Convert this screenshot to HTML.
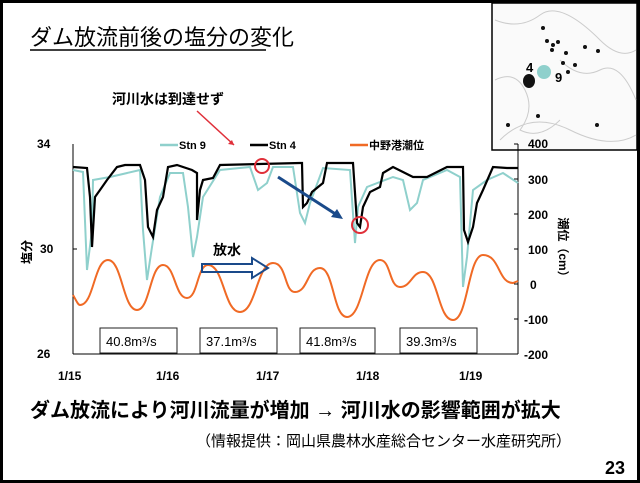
<!DOCTYPE html>
<html><head><meta charset="utf-8"><style>
html,body{margin:0;padding:0;background:#fff}
svg{display:block}
text{font-family:"Liberation Sans","Noto Sans CJK JP",sans-serif}
</style></head><body>
<svg width="640" height="483" viewBox="0 0 640 483" xmlns="http://www.w3.org/2000/svg">
<rect x="1.5" y="1.5" width="637" height="480" fill="#fff" stroke="#000" stroke-width="3"/>
<!-- map -->
<rect x="492" y="3" width="145" height="147" fill="#fafafa" stroke="#000" stroke-width="1.5"/>
<g fill="none" stroke="#ccc" stroke-width="1">
<path d="M495 20 Q520 30 540 15 T600 40 Q620 60 636 50"/>
<path d="M495 80 Q515 70 525 90 T520 130 Q540 140 560 120"/>
<path d="M560 60 Q580 80 600 70 T636 100"/>
<path d="M500 140 Q530 110 570 130 T636 135"/>
</g>
<g fill="#111">
<circle cx="543" cy="28" r="2"/><circle cx="547" cy="41" r="2"/><circle cx="553" cy="45" r="2"/><circle cx="558" cy="42" r="2"/><circle cx="552" cy="50" r="2"/><circle cx="566" cy="53" r="2"/><circle cx="563" cy="63" r="2"/><circle cx="575" cy="65" r="2"/><circle cx="568" cy="72" r="2"/><circle cx="585" cy="47" r="2"/><circle cx="598" cy="51" r="2"/><circle cx="538" cy="116" r="2"/><circle cx="508" cy="125" r="2"/><circle cx="597" cy="125" r="2"/>
<ellipse cx="529" cy="81" rx="6" ry="7"/>
</g>
<circle cx="544" cy="72" r="7" fill="#8fd0cc"/>
<text x="526" y="72" font-size="13" font-weight="bold">4</text>
<text x="555" y="82" font-size="13" font-weight="bold">9</text>
<!-- title -->
<text x="30" y="45" font-size="22">ダム放流前後の塩分の変化</text>
<line x1="30" y1="50" x2="266" y2="50" stroke="#000" stroke-width="1.5"/>
<text x="112" y="104" font-size="14" font-weight="bold">河川水は到達せず</text>
<line x1="197" y1="111" x2="234" y2="145" stroke="#e0303a" stroke-width="1.5"/>
<path d="M234 145 l-6 -1 l4 -4z" fill="#e0303a"/>
<!-- axes -->
<g font-size="12" font-weight="bold">
<text x="37" y="148">34</text><text x="40" y="253">30</text><text x="37" y="358">26</text>
<text x="528" y="148">400</text><text x="528" y="184">300</text><text x="528" y="219">200</text><text x="528" y="254">100</text><text x="530" y="289">0</text><text x="524" y="324">-100</text><text x="524" y="359">-200</text>
<text x="58" y="380">1/15</text><text x="156" y="380">1/16</text><text x="256" y="380">1/17</text><text x="356" y="380">1/18</text><text x="459" y="380">1/19</text>
</g>
<text x="27" y="256" font-size="12" font-weight="bold" text-anchor="middle" transform="rotate(-90 27 252)">塩分</text>
<text x="563" y="254" font-size="12" font-weight="bold" text-anchor="middle" transform="rotate(90 563 250)">潮位（cm）</text>
<line x1="73" y1="144" x2="73" y2="354" stroke="#000"/>
<line x1="73" y1="354" x2="518" y2="354" stroke="#000"/>
<line x1="518" y1="144" x2="518" y2="354" stroke="#000"/>
<line x1="73" y1="249" x2="77" y2="249" stroke="#000"/>
<g stroke="#000"><line x1="514" y1="144" x2="518" y2="144"/><line x1="514" y1="179" x2="518" y2="179"/><line x1="514" y1="214" x2="518" y2="214"/><line x1="514" y1="249" x2="518" y2="249"/><line x1="514" y1="284" x2="518" y2="284"/><line x1="514" y1="319" x2="518" y2="319"/></g>
<!-- legend -->
<line x1="160" y1="145" x2="178" y2="145" stroke="#8fd0cc" stroke-width="2.5"/>
<text x="179" y="149" font-size="11" font-weight="bold">Stn 9</text>
<line x1="250" y1="145" x2="268" y2="145" stroke="#000" stroke-width="2.5"/>
<text x="269" y="149" font-size="11" font-weight="bold">Stn 4</text>
<line x1="350" y1="145" x2="368" y2="145" stroke="#f06a25" stroke-width="2.5"/>
<text x="369" y="149" font-size="11" font-weight="bold">中野港潮位</text>
<!-- flow boxes -->
<g fill="#fff" stroke="#222"><rect x="100" y="328" width="77" height="25"/><rect x="200" y="328" width="77" height="25"/><rect x="300" y="328" width="75" height="25"/><rect x="400" y="328" width="77" height="25"/></g>
<g font-size="13"><text x="106" y="346">40.8m³/s</text><text x="206" y="346">37.1m³/s</text><text x="306" y="346">41.8m³/s</text><text x="406" y="346">39.3m³/s</text></g>
<!-- cyan -->
<polyline fill="none" stroke="#8fd0cc" stroke-width="2" points="73,170 83,172 87,270 92,230 93,180 110,177 140,170 143,230 147,280 152,247 160,197 170,173 183,173 188,207 193,257 197,237 203,197 220,170 250,167 258,190 267,183 273,167 293,167 300,213 305,223 310,203 323,168 350,170 355,243 358,207 367,187 393,177 403,180 410,210 417,203 423,180 447,170 460,177 463,287 467,257 473,190 487,180 503,173 518,183"/>
<!-- black -->
<polyline fill="none" stroke="#000" stroke-width="2.2" points="73,167 87,168 90,197 92,247 95,197 100,190 107,180 117,167 125,165 140,165 145,180 148,227 153,237 157,210 163,197 168,167 177,165 192,170 197,173 197,220 200,190 203,180 213,178 220,165 300,163 302,163 303,207 307,203 312,192 323,183 327,163 353,163 357,223 360,227 363,207 370,192 380,187 383,173 393,167 413,177 427,177 447,167 463,167 464,230 468,242 473,227 477,203 483,190 493,167 507,168 518,168"/>
<!-- orange -->
<path fill="none" stroke="#f06a25" stroke-width="2" d="M73,295 C76,300 78,305 80,305 C94,305 94,260 108,260 C122,260 123,310 137,310 C150,310 150,265 163,265 C175,265 175,298 187,298 C198,298 197,265 208,265 C224,265 224,312 240,312 C256,312 257,263 273,263 C287,263 284,292 295,292 C308,292 307,268 320,268 C334,268 333,317 347,317 C363,317 364,260 380,260 C391,260 389,287 400,287 C411,287 412,272 423,272 C438,272 438,320 453,320 C468,320 468,255 483,255 C500,255 498,283 513,283 L518,281"/>
<!-- annotations -->
<circle cx="262" cy="166" r="7" fill="none" stroke="#e0303a" stroke-width="2"/>
<circle cx="360" cy="225" r="8" fill="none" stroke="#e0303a" stroke-width="2"/>
<line x1="278" y1="177" x2="337" y2="215" stroke="#1a4a8a" stroke-width="3"/>
<path d="M343 219 l-12 -2 l6 -8z" fill="#1a4a8a"/>
<text x="213" y="255" font-size="14" font-weight="bold">放水</text>
<path d="M202 264 H252 V258 L268 268 L252 278 V272 H202 Z" fill="none" stroke="#1a4a8a" stroke-width="2"/>
<!-- bottom text -->
<text x="30" y="417" font-size="20" font-weight="bold">ダム放流により河川流量が増加 → 河川水の影響範囲が拡大</text>
<text x="196" y="446" font-size="15">（情報提供：岡山県農林水産総合センター水産研究所）</text>
<text x="605" y="474" font-size="18" font-weight="bold">23</text>
</svg>
</body></html>
